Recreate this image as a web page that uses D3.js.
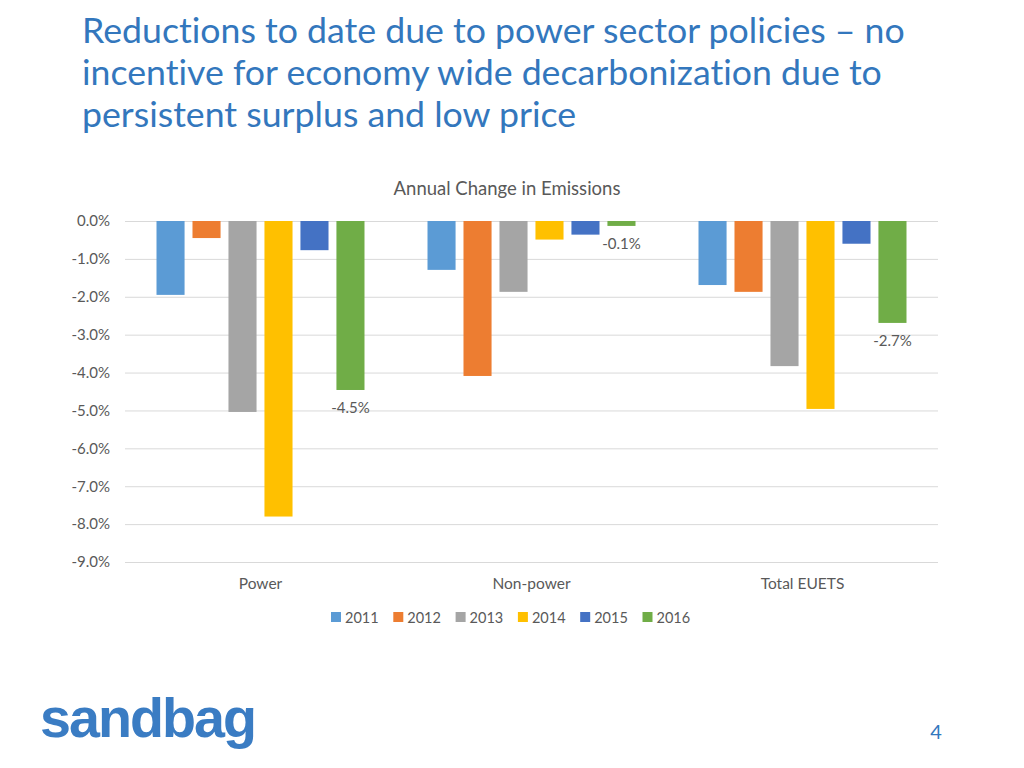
<!DOCTYPE html>
<html>
<head>
<meta charset="utf-8">
<script src="https://cdn.jsdelivr.net/npm/d3@7"></script>
<style>
  html, body { margin: 0; padding: 0; background: #fff; }
  svg { display: block; }
  text { font-variant-ligatures: none; }
</style>
</head>
<body>
<svg id="chart" width="1024" height="768"></svg>
<script>
// ---- data ----
const categories = ["Power", "Non-power", "Total EUETS"];
const years = ["2011", "2012", "2013", "2014", "2015", "2016"];
const values2011 = [-1.95, -1.29, -1.69];
const values2012 = [-0.45, -4.09, -1.87];
const values2013 = [-5.04, -1.87, -3.83];
const values2014 = [-7.80, -0.49, -4.96];
const values2015 = [-0.77, -0.36, -0.60];
const values2016 = [-4.46, -0.13, -2.69];
const seriesValues = [values2011, values2012, values2013, values2014, values2015, values2016];
const yTicks = [0, -1, -2, -3, -4, -5, -6, -7, -8, -9];
const labelledYear = "2016";
const colors = ["#5B9BD5", "#ED7D31", "#A5A5A5", "#FFC000", "#4472C4", "#70AD47"];

const titleLines = [
  "Reductions to date due to power sector policies \u2013 no",
  "incentive for economy wide decarbonization due to",
  "persistent surplus and low price"
];

(function () {
const svg = d3.select("#chart");
const FONT = "Lato, 'Open Sans', sans-serif";
const textCol = "#595959";

// ---- slide title ----
const titleG = svg.append("g");
titleLines.forEach((t, i) => {
  titleG.append("text")
    .attr("x", 82).attr("y", 43 + i * 42)
    .attr("font-family", FONT)
    .attr("font-size", 34)
    .attr("fill", "#3377BD")
    .text(t);
});
{
  const first = titleG.select("text").node();
  const w = first.getComputedTextLength();
  const fs = 34 * 823 / w;
  titleG.selectAll("text").attr("font-size", fs);
}

// ---- chart ----
const pLeft = 125, pRight = 938, pTop = 221, pBottom = 562;

const y = d3.scaleLinear().domain([0, -9]).range([pTop, pBottom]);
const x0 = d3.scaleBand().domain(categories).range([pLeft, pRight]).paddingInner(0.2325).paddingOuter(0.11625);
const x1 = d3.scaleBand().domain(years).range([0, x0.bandwidth()]).paddingInner(0.22).paddingOuter(0);
const color = d3.scaleOrdinal().domain(years).range(colors);

svg.append("text")
  .attr("x", 507).attr("y", 195)
  .attr("text-anchor", "middle")
  .attr("font-family", FONT).attr("font-size", 18.5)
  .attr("fill", textCol)
  .text("Annual Change in Emissions");

const yAxis = d3.axisLeft(y)
  .tickValues(yTicks)
  .tickSize(-(pRight - pLeft))
  .tickPadding(15)
  .tickFormat(d => d.toFixed(1) + "%");
const yg = svg.append("g").attr("transform", `translate(${pLeft},0)`).call(yAxis);
yg.select(".domain").remove();
yg.selectAll(".tick line").attr("stroke", "#D9D9D9").attr("stroke-width", 1);
yg.selectAll(".tick text")
  .attr("font-family", FONT).attr("font-size", 15)
  .attr("fill", textCol);

const rows = categories.map((c, ci) => ({
  cat: c,
  vals: years.map((yr, yi) => ({ year: yr, value: seriesValues[yi][ci] }))
}));

const groups = svg.append("g").selectAll("g")
  .data(rows).join("g")
  .attr("transform", d => `translate(${x0(d.cat)},0)`);

groups.selectAll("rect")
  .data(d => d.vals).join("rect")
  .attr("x", d => x1(d.year))
  .attr("width", x1.bandwidth())
  .attr("y", y(0))
  .attr("height", d => y(d.value) - y(0))
  .attr("fill", d => color(d.year));

groups.selectAll("text.lbl")
  .data(d => d.vals.filter(v => v.year === labelledYear)).join("text")
  .attr("class", "lbl")
  .attr("x", d => x1(d.year) + x1.bandwidth() / 2)
  .attr("y", d => y(d.value) + 23)
  .attr("text-anchor", "middle")
  .attr("font-family", FONT).attr("font-size", 15)
  .attr("fill", textCol)
  .text(d => d.value.toFixed(1) + "%");

const xAxis = d3.axisBottom(x0).tickSize(0).tickPadding(16);
const xg = svg.append("g").attr("transform", `translate(0,${pBottom})`).call(xAxis);
xg.select(".domain").remove();
xg.selectAll(".tick text")
  .attr("font-family", FONT).attr("font-size", 15.5)
  .attr("fill", textCol);

const legendX = 331, legendStep = 62.3, legendY = 617;
const lg = svg.append("g").selectAll("g")
  .data(years).join("g")
  .attr("transform", (d, i) => `translate(${legendX + i * legendStep},${legendY})`);
lg.append("rect")
  .attr("x", 0).attr("y", -5).attr("width", 10).attr("height", 10)
  .attr("fill", d => color(d));
lg.append("text")
  .attr("x", 14).attr("y", 5.5)
  .attr("font-family", FONT).attr("font-size", 14.5)
  .attr("fill", textCol)
  .text(d => d);

svg.append("text")
  .attr("x", 40).attr("y", 737)
  .attr("font-family", "'Liberation Sans', Arial, sans-serif")
  .attr("font-weight", "bold")
  .attr("font-size", 56)
  .attr("letter-spacing", -2)
  .attr("fill", "#3A7CC3")
  .attr("textLength", 215)
  .attr("lengthAdjust", "spacingAndGlyphs")
  .text("sandbag");

svg.append("text")
  .attr("x", 936).attr("y", 739)
  .attr("text-anchor", "middle")
  .attr("font-family", FONT).attr("font-size", 20)
  .attr("fill", "#3377BD")
  .text("4");
})();
</script>
</body>
</html>
